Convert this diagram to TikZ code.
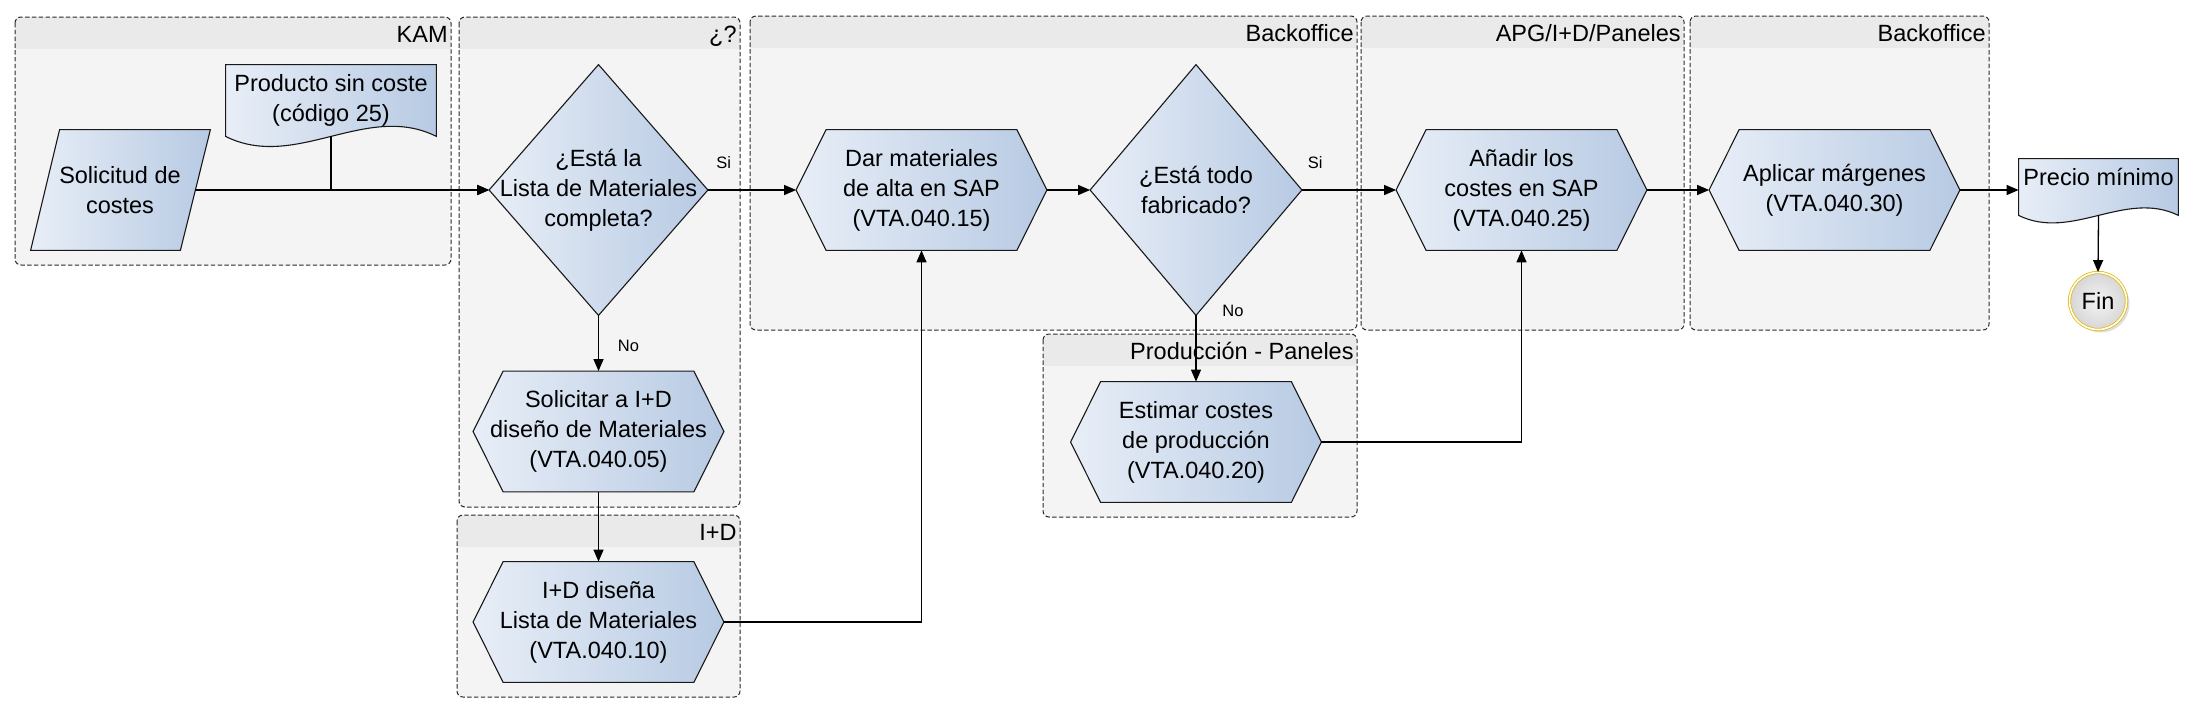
\documentclass[tikz,border=0pt]{standalone}
\usepackage{fontspec}
\setmainfont{Liberation Sans}
\usetikzlibrary{calc,arrows.meta,shadows}
\pgfdeclarelayer{lanes}
\pgfdeclarelayer{shp}
\pgfsetlayers{lanes,shp,main}
\definecolor{hexL}{HTML}{E8EEF7}
\definecolor{hexR}{HTML}{B7CAE3}
\definecolor{laneBody}{HTML}{F4F4F4}
\definecolor{laneHead}{HTML}{EAEAEA}
\definecolor{laneEdge}{HTML}{2A2A2A}
\definecolor{ringc}{HTML}{E2BC0C}
\definecolor{finIn}{HTML}{F4F4F4}
\definecolor{finOut}{HTML}{D6D6D6}
\tikzset{
  mainfont/.style={font=\fontsize{11.75pt}{15pt}\selectfont},
  txtbox/.style={mainfont, align=center, inner sep=0pt, text=black},
  hexbox/.style={txtbox, minimum width=125pt, minimum height=60pt},
  shapefill/.style={draw=black!90, line width=0.55pt, left color=hexL, right color=hexR},
  conn/.style={draw=black, line width=0.65pt, -{Triangle[length=6pt,width=5pt]}},
  lbl/.style={font=\fontsize{8.25pt}{10pt}\selectfont, inner sep=0pt},
  lanetitle/.style={mainfont, anchor=base east, inner sep=0pt},
}
\newcommand{\lanebg}[6]{%
  \begin{pgfonlayer}{lanes}
    \fill[laneBody, rounded corners=3pt] (#2,#3) rectangle (#4,#5);
    \begin{scope}
      \clip[rounded corners=3pt] (#2,#3) rectangle (#4,#5);
      \fill[laneHead] (#2,#3) rectangle (#4,#3+32);
    \end{scope}
    \draw[laneEdge, line width=0.5pt, dash pattern=on 2.2pt off 1.2pt, rounded corners=3pt] (#2,#3) rectangle (#4,#5);
  \end{pgfonlayer}
  \node[lanetitle] (#1) at (#4-3,#3+25) {#6};
}
\newcommand{\hexshape}[1]{%
  \begin{pgfonlayer}{shp}
    \draw[shapefill] ($(#1.north west)+(30,0)$) -- ($(#1.north east)+(-30,0)$) -- (#1.east)
      -- ($(#1.south east)+(-30,0)$) -- ($(#1.south west)+(30,0)$) -- (#1.west) -- cycle;
  \end{pgfonlayer}
}
\newcommand{\diashape}[1]{%
  \begin{pgfonlayer}{shp}
    \draw[shapefill] (#1.north) -- (#1.east) -- (#1.south) -- (#1.west) -- cycle;
  \end{pgfonlayer}
}
\begin{document}
\begin{tikzpicture}[x=0.5pt, y=-0.5pt]
\begin{pgfonlayer}{lanes}
  \fill[white] (0,0) rectangle (2194,713);
\end{pgfonlayer}
\useasboundingbox (0,0) rectangle (2194,713);

% lanes
\lanebg{lkam}{15}{17}{451}{265}{KAM}
\lanebg{lq}{459}{17}{740}{507}{¿?}
\lanebg{lbo1}{750}{16}{1357}{330}{Backoffice}
\lanebg{lapg}{1361}{16}{1684}{330}{APG/I+D/Paneles}
\lanebg{lbo2}{1690}{16}{1989}{330}{Backoffice}
\lanebg{lid}{457}{515}{740}{697}{I+D}
\lanebg{lprod}{1043}{334}{1357}{517}{Producción - Paneles}

% Solicitud de costes (parallelogram)
\node[txtbox, minimum width=75pt, minimum height=60pt] (solic) at (120,190) {Solicitud de\\costes};
\begin{pgfonlayer}{shp}
  \draw[shapefill] ($(solic.north west)+(15,0)$) -- ($(solic.north east)+(15,0)$)
    -- ($(solic.south east)+(-15,0)$) -- ($(solic.south west)+(-14,0)$) -- cycle;
\end{pgfonlayer}

% Producto sin coste (document)
\node[txtbox, minimum width=105pt, minimum height=35.5pt] (prod) at (331,100.5) {Producto sin coste\\(código 25)};
\begin{pgfonlayer}{shp}
  \draw[shapefill] (prod.south west) -- (prod.north west) -- (prod.north east) -- (prod.south east)
    .. controls +(-70,-35) and +(70,35) .. (prod.south west) -- cycle;
\end{pgfonlayer}

% decisions
\node[txtbox, minimum width=109pt, minimum height=125pt] (d1) at (598.5,190) {¿Está la\\Lista de Materiales\\completa?};
\diashape{d1}
\node[txtbox, minimum width=105.5pt, minimum height=125pt] (d2) at (1196,190) {¿Está todo\\fabricado?};
\diashape{d2}

% processes
\node[hexbox] (dar) at (921.5,190) {Dar materiales\\de alta en SAP\\(VTA.040.15)};
\hexshape{dar}
\node[hexbox] (sol2) at (598.5,431.5) {Solicitar a I+D\\diseño de Materiales\\(VTA.040.05)};
\hexshape{sol2}
\node[hexbox] (idd) at (598.5,622) {I+D diseña\\Lista de Materiales\\(VTA.040.10)};
\hexshape{idd}
\node[hexbox] (est) at (1196,442) {Estimar costes\\de producción\\(VTA.040.20)};
\hexshape{est}
\node[hexbox] (add) at (1521.5,190) {Añadir los\\costes en SAP\\(VTA.040.25)};
\hexshape{add}
\node[hexbox] (apl) at (1834.5,190) {Aplicar márgenes\\(VTA.040.30)};
\hexshape{apl}

% Precio minimo (document)
\node[txtbox, minimum width=79.5pt, minimum height=28pt, text height=9pt, text depth=10.6pt] (precio) at (2098.5,187) {Precio mínimo};
\begin{pgfonlayer}{shp}
  \draw[shapefill] (precio.south west) -- (precio.north west) -- (precio.north east) -- (precio.south east)
    .. controls +(-53,-26) and +(53,26) .. (precio.south west) -- cycle;
\end{pgfonlayer}

% Fin
\node[circle, minimum size=28.5pt, inner sep=0pt, draw=ringc, double=white, double distance=0.8pt,
      line width=0.4pt, inner color=finIn, outer color=finOut,
      drop shadow={shadow xshift=1.5pt, shadow yshift=-1.5pt, opacity=0.25},
      mainfont] (fin) at (2098,301) {Fin};

% connectors
\draw[conn] (solic.east) -- (d1.west);
\draw[conn] (prod.south) |- (d1.west);
\draw[conn] (d1.east) -- node[lbl, pos=0.18, yshift=13.5pt] (si1) {Si} (dar.west);
\draw[conn] (d1.south) -- node[lbl, pos=0.54, xshift=15pt] (no1) {No} (sol2.north);
\draw[conn] (sol2.south) -- (idd.north);
\draw[conn] (idd.east) -| (dar.south);
\draw[conn] (dar.east) -- (d2.west);
\draw[conn] (d2.east) -- node[lbl, pos=0.14, yshift=13.5pt] (si2) {Si} (add.west);
\draw[conn] (d2.south) -- node[lbl, pos=0, xshift=18.5pt, yshift=2.5pt] (no2) {No} (est.north);
\draw[conn] (est.east) -| (add.south);
\draw[conn] (add.east) -- (apl.west);
\draw[conn] (apl.east) -- (apl.east -| precio.west);
\draw[conn] (precio.south) -- (fin.north);
\end{tikzpicture}
\end{document}
